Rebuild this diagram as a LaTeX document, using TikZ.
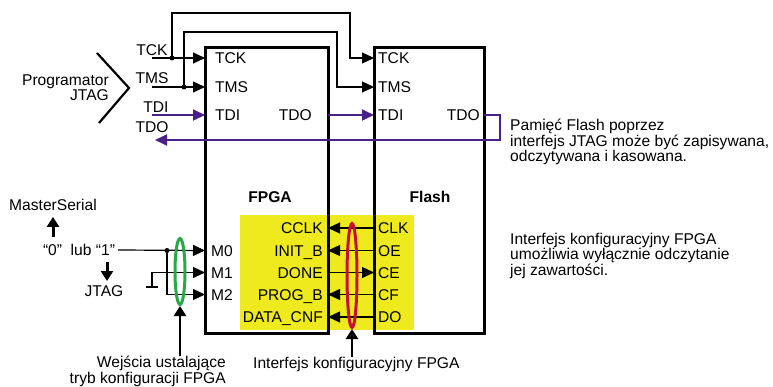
\documentclass[tikz,border=0pt]{standalone}
\usepackage{fontspec}
\setmainfont{Liberation Sans}
\usetikzlibrary{arrows.meta, positioning, shapes.geometric}

\definecolor{jtagviolet}{RGB}{72,32,136}
\definecolor{cfgyellow}{RGB}{238,234,30}
\definecolor{ringgreen}{RGB}{40,168,72}
\definecolor{ringred}{RGB}{200,16,46}

\begin{document}
\begin{tikzpicture}[
    x=1pt, y=-1pt,
    >={Triangle[length=12pt, width=11pt]},
    chip/.style={draw, line width=3pt, inner sep=0pt},
    pin/.style={font=\fontsize{15.6}{12}\selectfont, inner sep=0pt, text height=11.2pt, text depth=0pt},
    txt/.style={font=\fontsize{15.6}{12}\selectfont, inner sep=0pt},
    title/.style={font=\fontsize{15.6}{12}\selectfont\bfseries, inner sep=0pt},
    wire/.style={line width=1.2pt},
    jtagwire/.style={line width=1.8pt, jtagviolet},
    ring/.style={draw, ellipse, line width=3pt, inner sep=0pt, minimum width=10pt},
    pointer/.style={line width=2.6pt, -{Triangle[length=10pt, width=12pt]}},
    hint/.style={line width=3pt, -{Triangle[length=10pt, width=12pt]}}
]
    \useasboundingbox (0,0) rectangle (773,387);

    % Pole interfejsu konfiguracyjnego
    \fill[cfgyellow] (240,215) rectangle (414,330);

    % Uklady
    \node[chip, minimum width=123pt, minimum height=285pt] (fpga) at (266.5,190.5) {};
    \node[chip, minimum width=110pt, minimum height=285pt] (flash) at (429,190.5) {};
    \node[title] at (270,197) {FPGA};
    \node[title] at (430,197) {Flash};

    % Wyprowadzenia JTAG
    \coordinate (fpga-tck) at (205,58);
    \coordinate (fpga-tms) at (205,87);
    \coordinate (fpga-tdi) at (205,115);
    \coordinate (fpga-tdo) at (328,115);
    \coordinate (flash-tck) at (374,58);
    \coordinate (flash-tms) at (374,87);
    \coordinate (flash-tdi) at (374,115);
    \coordinate (flash-tdo) at (484,115);
    \node[pin, anchor=west, right=10pt of fpga-tck] {TCK};
    \node[pin, anchor=west, right=10pt of fpga-tms] {TMS};
    \node[pin, anchor=west, right=10pt of fpga-tdi] {TDI};
    \node[pin, anchor=east, left=16pt of fpga-tdo] {TDO};
    \node[pin, anchor=west, right=4pt of flash-tck] {TCK};
    \node[pin, anchor=west, right=4pt of flash-tms] {TMS};
    \node[pin, anchor=west, right=4pt of flash-tdi] {TDI};
    \node[pin, anchor=east, left=4pt of flash-tdo] {TDO};

    % Programator JTAG
    \draw[line width=2.2pt] (97,53) -- (129,88) -- (99,123);
    \node[txt, align=right, anchor=east] (prog) at (109,88) {Programator\\JTAG};
    \node[pin] (tck) at (152,50) {TCK};
    \node[pin] (tms) at (152,78) {TMS};
    \node[pin] (tdi) at (156,107) {TDI};
    \node[pin] (tdo) at (152,127) {TDO};
    \coordinate (jtag-tck) at (152,58);
    \coordinate (jtag-tms) at (152,87);
    \coordinate (jtag-tdi) at (152,115);
    \coordinate (jtag-tdo) at (155,140);
    \coordinate (dot-tck) at (172,58);
    \coordinate (dot-tms) at (184,87);

    \draw[wire, ->] (jtag-tck) -- (fpga-tck);
    \draw[wire, ->] (jtag-tms) -- (fpga-tms);
    \draw[wire, ->] (dot-tck) |- (350,13) |- (flash-tck);
    \draw[wire, ->] (dot-tms) |- (337,32) |- (flash-tms);
    \fill (dot-tck) circle (2.5);
    \fill (dot-tms) circle (2.5);

    \draw[jtagwire, ->] (jtag-tdi) -- (fpga-tdi);
    \draw[jtagwire, ->] (fpga-tdo) -- (flash-tdi);
    \draw[jtagwire, ->] (flash-tdo) -- (500,115) |- (jtag-tdo);

    % Interfejs konfiguracyjny
    \foreach \y/\fname/\mname [count=\i] in {228/CCLK/CLK, 250.5/INIT\_B/OE, 272.5/DONE/CE, 294.5/PROG\_B/CF, 317/DATA\_CNF/DO} {
        \coordinate (cfg-\i) at (328,\y);
        \coordinate (mem-\i) at (374,\y);
        \node[pin, anchor=east, left=5pt of cfg-\i] {\fname};
        \node[pin, anchor=west, right=4pt of mem-\i] {\mname};
    }
    \draw[wire, ->] (mem-1) -- (cfg-1);
    \draw[wire, ->] (mem-2) -- (cfg-2);
    \draw[wire, ->] (cfg-3) -- (mem-3);
    \draw[wire, ->] (mem-4) -- (cfg-4);
    \draw[wire, ->] (mem-5) -- (cfg-5);
    \node[ring, ringred, minimum height=104pt] (cfgring) at (352,275.5) {};

    % Wejscia trybu konfiguracji
    \coordinate (m0) at (205,250.5);
    \coordinate (m1) at (205,272.5);
    \coordinate (m2) at (205,294.5);
    \node[pin, anchor=west, right=6pt of m0] {M0};
    \node[pin, anchor=west, right=6pt of m1] {M1};
    \node[pin, anchor=west, right=6pt of m2] {M2};
    \node[txt] (lub) at (79,250) {“0”\ \ lub “1”};
    \node[txt] (master) at (53,205) {MasterSerial};
    \node[txt] (jtagm) at (104,291) {JTAG};
    \coordinate (dot-m0) at (167,250.5);
    \coordinate (gnd) at (152,287);

    \draw[wire, ->] (lub.east) ++(3,0) -- (m0);
    \draw[wire, ->] (dot-m0) |- (m2);
    \draw[wire, ->] (gnd) |- (m1);
    \draw[line width=2.4pt] (146,287) -- (158,287);
    \fill (dot-m0) circle (2.5);
    \node[ring, ringgreen, minimum height=66pt] (modering) at (180,271.5) {};

    \draw[hint] (53,237) -- ([yshift=-6pt]master.south);
    \draw[hint] (107,262) -- (107,281);

    % Opisy
    \node[txt, align=right, anchor=north east] (wej) at (226,356) {Wejścia ustalające\\tryb konfiguracji FPGA};
    \draw[pointer] (modering.south |- wej.north) -- (modering.south);
    \node[txt, anchor=north west] (opis) at (253,357) {Interfejs konfiguracyjny FPGA};
    \draw[pointer] (cfgring.south |- opis.north) -- (cfgring.south);

    \node[txt, align=left, anchor=west] at (510,142) {Pamięć Flash poprzez\\interfejs JTAG może być zapisywana,\\odczytywana i kasowana.};
    \node[txt, align=left, anchor=west] at (510,256) {Interfejs konfiguracyjny FPGA\\umożliwia wyłącznie odczytanie\\jej zawartości.};

\end{tikzpicture}
\end{document}
